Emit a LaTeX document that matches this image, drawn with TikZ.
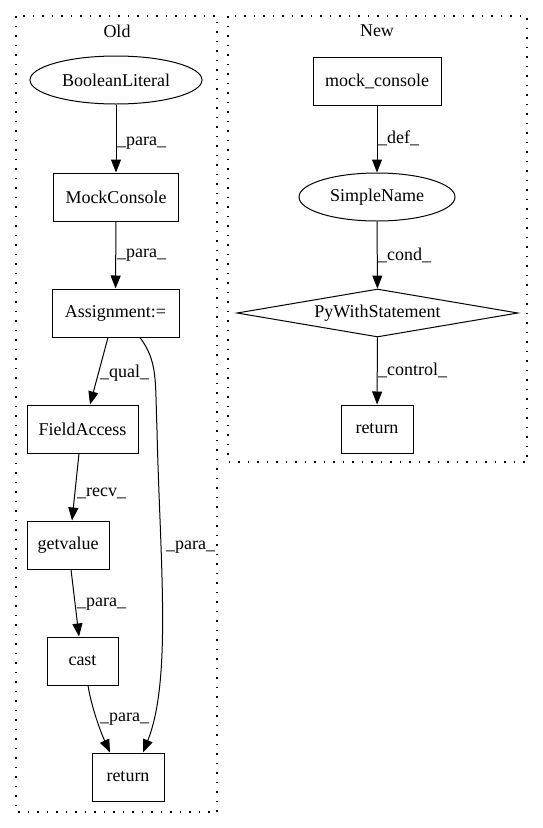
\documentclass[tikz,border=0pt]{standalone}
\usepackage{fontspec}
\setmainfont{Liberation Serif}
\usetikzlibrary{shapes.geometric,arrows.meta}
\tikzset{
  base/.style={draw, line width=1pt, inner sep=0pt, font=\fontsize{18}{20}\selectfont, minimum height=48pt},
  boxn/.style={base, rectangle},
  elln/.style={base, ellipse},
  diam/.style={base, diamond, aspect=5.8},
  edge/.style={draw, line width=1pt, -{Triangle[length=13pt,width=10pt]}},
  lbl/.style={anchor=west, inner sep=0pt, font=\fontsize{18}{20}\selectfont},
  ttl/.style={inner sep=0pt, font=\fontsize{18}{20}\selectfont},
  clus/.style={draw, line width=1.3pt, dash pattern=on 1.5pt off 8pt}
}
\begin{document}
\begin{tikzpicture}[x=1pt,y=-1pt]
\useasboundingbox (0,0) rectangle (543,828);
% clusters
\draw[clus] (16,16) rectangle (217,812);
\draw[clus] (228,16) rectangle (527,462);
\node[ttl] (told) at (117,31) {Old};
\node[ttl] (tnew) at (377,31) {New};
% Old nodes
\node[elln, minimum width=172pt] (bl) at (116,80) {BooleanLiteral};
\node[boxn, minimum width=125pt] (mc) at (116,197) {MockConsole};
\node[boxn, minimum width=127pt] (asg) at (115.5,313) {Assignment:=};
\node[boxn, minimum width=111pt] (fa) at (82.5,429) {FieldAccess};
\node[boxn, minimum width=82pt] (gv) at (68,545) {getvalue};
\node[boxn, minimum width=71pt] (cast) at (82.5,661) {cast};
\node[boxn, minimum width=72pt] (ret1) at (128,777) {return};
% New nodes
\node[boxn, minimum width=128pt] (mock) at (377,81) {mock\_console};
\node[elln, minimum width=156pt] (sn) at (377,197) {SimpleName};
\node[diam, minimum width=281pt] (pws) at (377.5,313) {PyWithStatement};
\node[boxn, minimum width=72pt] (ret2) at (377,429) {return};
% Old edges
\draw[edge] (bl) -- (mc);
\draw[edge] (mc) -- (asg);
\draw[edge] ([xshift=-7.5pt]asg.south) -- ([xshift=7.5pt]fa.north);
\draw[edge] ([xshift=-3.5pt]fa.south) -- ([xshift=4pt]gv.north);
\draw[edge] ([xshift=3pt]gv.south) -- ([xshift=-3.5pt]cast.north);
\draw[edge] ([xshift=5.5pt]cast.south) .. controls (92,710) and (102,735) .. ([xshift=-18pt]ret1.north);
\draw[edge] ([xshift=24.5pt]asg.south) .. controls (158,362) and (155,380) .. (157,430)
  .. controls (160,560) and (172,680) .. ([xshift=15pt]ret1.north);
% New edges
\draw[edge] (mock) -- (sn);
\draw[edge] (sn) -- (pws);
\draw[edge] (pws) -- (ret2);
% labels
\node[lbl] (l1) at (117,143) {\_para\_};
\node[lbl] (l2) at (117,255) {\_para\_};
\node[lbl] (l3) at (100,373) {\_qual\_};
\node[lbl] (l4) at (77,493) {\_recv\_};
\node[lbl] (l5) at (77,604) {\_para\_};
\node[lbl] (l6) at (166,547) {\_para\_};
\node[lbl] (l7) at (100,719) {\_para\_};
\node[lbl] (l8) at (378,138) {\_def\_};
\node[lbl] (l9) at (378,255) {\_cond\_};
\node[lbl] (l10) at (378,370) {\_control\_};
\end{tikzpicture}
\end{document}
